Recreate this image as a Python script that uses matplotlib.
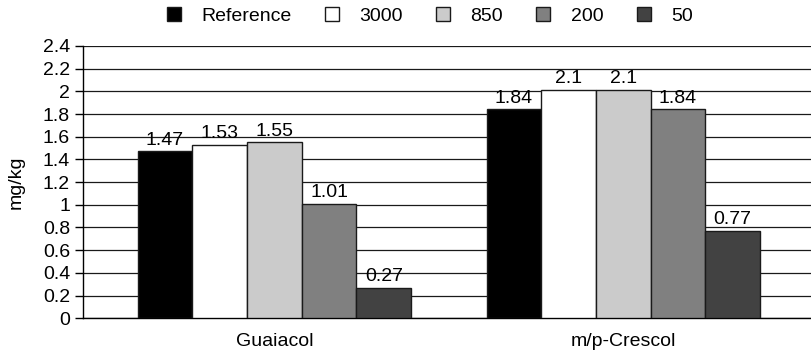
import matplotlib.pyplot as plt
import numpy as np

plt.rcParams['font.family'] = ['Liberation Sans', 'DejaVu Sans']

compounds = ['Guaiacol', 'm/p-Crescol']
series = ['Reference', '3000', '850', '200', '50']
# bar heights as drawn, and the value labels printed above them
heights = [
    [1.47, 1.84],
    [1.53, 2.01],
    [1.55, 2.01],
    [1.01, 1.84],
    [0.27, 0.77],
]
labels = [
    ['1.47', '1.84'],
    ['1.53', '2.1'],
    ['1.55', '2.1'],
    ['1.01', '1.84'],
    ['0.27', '0.77'],
]
colors = ['#000000', '#ffffff', '#cbcbcb', '#808080', '#424242']
yticks = [0, 0.2, 0.4, 0.6, 0.8, 1, 1.2, 1.4, 1.6, 1.8, 2, 2.2, 2.4]

FS = 14

fig = plt.figure(figsize=(8.11, 3.51), dpi=100)
ax = fig.add_axes([0.1027, 0.0932, 0.8973, 0.776])

group_x = np.array([2.0, 8.378])
w = 1.0
for i, (name, col) in enumerate(zip(series, colors)):
    xs = group_x + (i - 2) * w
    bars = ax.bar(xs, heights[i], width=w, color=col, edgecolor='#1a1a1a',
                  linewidth=1.0, label=name, zorder=3)
    for b, txt in zip(bars, labels[i]):
        ax.text(b.get_x() + b.get_width() / 2, b.get_height() + 0.06, txt,
                ha='center', va='baseline', fontsize=FS, zorder=4)

ax.set_ylim(0, 2.4)
ax.set_xlim(-1.495, 11.81)
ax.set_yticks(yticks)
ax.set_yticklabels([f'{t:g}' for t in yticks], fontsize=FS)
ax.set_xticks(group_x)
ax.set_xticklabels(compounds, fontsize=FS)
ax.tick_params(axis='x', length=0, pad=10.5)
ax.tick_params(axis='y', length=6, width=1, pad=3.5)
ax.yaxis.grid(True, color='#1a1a1a', linewidth=0.9, zorder=0)
ax.set_axisbelow(True)
for s in ['top', 'right']:
    ax.spines[s].set_visible(False)
ax.spines['left'].set_linewidth(1)
ax.spines['bottom'].set_linewidth(1)
ax.set_ylabel('mg/kg', fontsize=FS)
ax.yaxis.set_label_coords(-0.080, 0.5)

fig.legend(loc='center', bbox_to_anchor=(0.530, 0.954), ncol=5, frameon=False,
           fontsize=FS, handlelength=0.72, handleheight=0.72, handletextpad=1.03,
           columnspacing=1.73)

fig.savefig('out.png', dpi=100)
